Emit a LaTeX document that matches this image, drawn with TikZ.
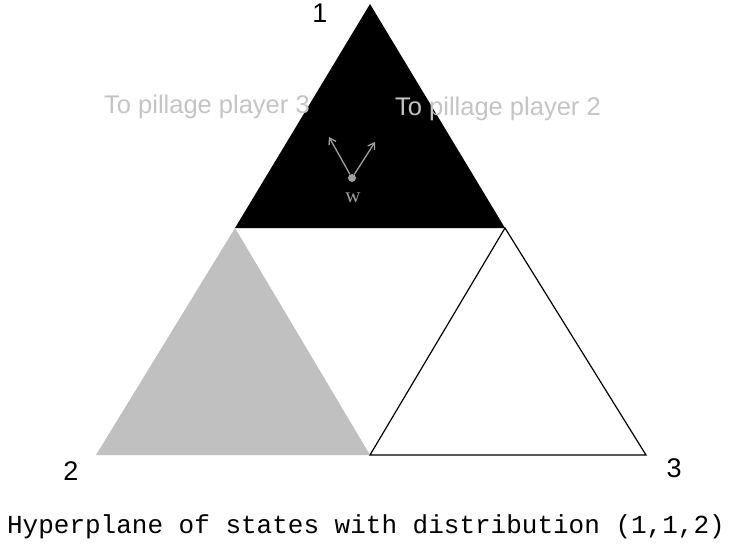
\documentclass[tikz,border=0pt]{standalone}
\usepackage{fontspec}
\setmainfont{Liberation Sans}
\newfontfamily\capfont{Liberation Mono}
\newfontfamily\wfont{Liberation Serif}
\definecolor{lightg}{HTML}{C0C0C0}
\definecolor{txtg}{HTML}{C4C4C4}
\definecolor{arrg}{HTML}{A0A0A0}
\tikzset{
  lbl/.style={inner sep=0pt, font=\fontsize{27}{30}\selectfont},
  pill/.style={inner sep=0pt, text=txtg, anchor=base west, font=\fontsize{25.5}{28}\selectfont},
  arr/.style={draw=arrg, line width=1.3pt, -{Straight Barb[length=6pt,width=8pt]}},
}
\usetikzlibrary{arrows.meta}
\begin{document}
\begin{tikzpicture}[x=1pt,y=-1pt]
\useasboundingbox (0,0) rectangle (735,552);
\coordinate (top) at (370,4);
\coordinate (ml) at (235,228);
\coordinate (mr) at (505,228);
\coordinate (bl) at (96,455);
\coordinate (bm) at (370,455);
\coordinate (br) at (646,455);
\fill[black] (top) -- (ml) -- (mr) -- cycle;
\fill[lightg] (ml) -- (bl) -- (bm) -- cycle;
\draw[line width=1.2pt] (mr) -- (bm) -- (br) -- cycle;
\node[lbl] (n1) at (320,13) {1};
\node[lbl] (n2) at (71,471) {2};
\node[lbl] (n3) at (674,468) {3};
\node[pill] (p3) at (104,113) {To pillage player 3};
\node[pill] (p2) at (395,115) {To pillage player 2};
\node[circle, fill=arrg, inner sep=0pt, minimum size=8pt] (w) at (352,178) {};
\coordinate (wl) at (329,137);
\coordinate (wr) at (375,142);
\draw[arr] (w) -- (wl);
\draw[arr] (w) -- (wr);
\node[inner sep=0pt, text=arrg, font=\wfont\fontsize{21}{24}\selectfont] (wlab) at (353,198) {w};
\node[inner sep=0pt, anchor=base, font=\capfont\fontsize{26}{30}\selectfont] (cap) at (366,533) {Hyperplane of states with distribution (1,1,2)};
\end{tikzpicture}
\end{document}
